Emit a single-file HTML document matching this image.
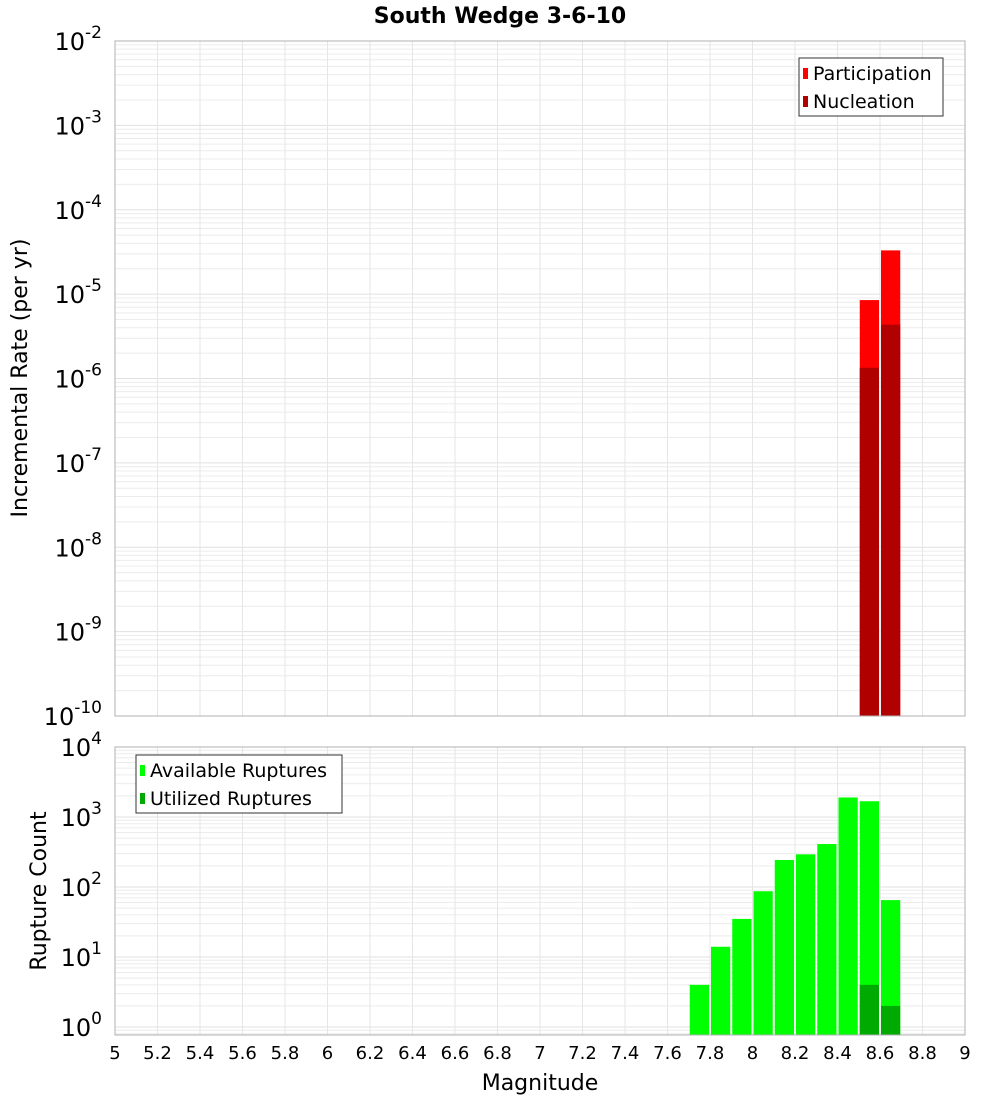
<!DOCTYPE html>
<html><head><meta charset="utf-8"><style>
body{margin:0;background:#fff;}
svg{display:block;font-family:"DejaVu Sans","Liberation Sans",sans-serif;}
</style></head><body>
<svg id="c" width="1000" height="1100" xmlns="http://www.w3.org/2000/svg">
<text x="500" y="23" text-anchor="middle" font-size="22" font-weight="bold">South Wedge 3-6-10</text>
<g id="topPanel"></g>
<g id="botPanel"></g>
<text x="540" y="1090" text-anchor="middle" font-size="22">Magnitude</text>
<text transform="translate(27,378) rotate(-90)" text-anchor="middle" font-size="22">Incremental Rate (per yr)</text>
<text transform="translate(46,891) rotate(-90)" text-anchor="middle" font-size="22">Rupture Count</text>
</svg>
<script>
const mags=[7.75,7.85,7.95,8.05,8.15,8.25,8.35,8.45,8.55,8.65];
const available=[4,14,35,87,243,293,411,1900,1680,65];
const utilized=[0,0,0,0,0,0,0,0,4,2];
const rateMags=[8.55,8.65];
const participation=[8.5e-6,3.3e-5];
const nucleation=[1.34e-6,4.35e-6];
const xTicks=[5,5.2,5.4,5.6,5.8,6,6.2,6.4,6.6,6.8,7,7.2,7.4,7.6,7.8,8,8.2,8.4,8.6,8.8,9];

const NS="http://www.w3.org/2000/svg";
const X0=115,X1=965;
const xs=m=>X0+(m-5)/4*(X1-X0);
function el(p,t,a){const e=document.createElementNS(NS,t);for(const k in a)e.setAttribute(k,a[k]);p.appendChild(e);return e;}

function panel(g,t0,b0,yFn,dMin,dMax){
  for(let d=dMin;d<=dMax;d++){for(let k=1;k<=9;k++){const yy=yFn(k*Math.pow(10,d));if(yy<t0-0.5||yy>b0+0.5)continue;
    const l=el(g,'line',{x1:X0,x2:X1,y1:yy,y2:yy,stroke:k==1?'#e0e0e0':'#ececec','stroke-width':1});
    
    }}
  xTicks.forEach(t=>{const l=el(g,'line',{x1:xs(t),x2:xs(t),y1:t0,y2:b0,stroke:'#e6e6e6','stroke-width':1});
    
    });
}
function frame(g,t0,b0){const r=el(g,'rect',{x:X0,y:t0,width:X1-X0,height:b0-t0,fill:'none',stroke:'#b0b0b0','stroke-width':1});
  
  }
function ylab(g,yy,e,name){const t=el(g,'text',{x:102,y:yy+9,'text-anchor':'end','font-size':24});
  
  
  t.textContent='10';const s=el(t,'tspan',{dy:-12,'font-size':17});s.textContent=e;}
function bar(g,m,v,yFn,b0,col,name){const yy=yFn(v);const b=el(g,'rect',{x:xs(m-0.05)+1,y:yy,width:xs(m+0.05)-xs(m-0.05)-2,height:b0-yy,fill:col});
  
  }

const T0=41,T1=716,dec=(T1-T0)/8;
const yT=v=>T0+(-2-Math.log10(v))*dec;
const topG=document.getElementById('topPanel');
panel(topG,T0,T1,yT,-10,-3);
rateMags.forEach((m,i)=>bar(topG,m,participation[i],yT,T1,'#ff0000','participation-bar'));
rateMags.forEach((m,i)=>bar(topG,m,nucleation[i],yT,T1,'#b00000','nucleation-bar'));
frame(topG,T0,T1);
for(let d=-10;d<=-2;d++)ylab(topG,yT(Math.pow(10,d)),String(d),'top-y-tick-label');

const B0=747,B1=1035,bdec=70,Y1=B0+4*bdec;
const yB=v=>Y1-Math.log10(v)*bdec;
const botG=document.getElementById('botPanel');
panel(botG,B0,B1,yB,-1,3);
mags.forEach((m,i)=>bar(botG,m,available[i],yB,B1,'#00ff00','available-bar'));
mags.forEach((m,i)=>{if(utilized[i]>0)bar(botG,m,utilized[i],yB,B1,'#00aa00','utilized-bar');});
frame(botG,B0,B1);
for(let d=0;d<=4;d++)ylab(botG,yB(Math.pow(10,d)),String(d),'bottom-y-tick-label');

xTicks.forEach(t=>{const tx=el(document.getElementById('c'),'text',{x:xs(t),y:1059,'text-anchor':'middle','font-size':18});
  
  
  tx.textContent=String(t);});

function legend(g,bx,by,w,items,name){const lg=el(g,'g',{});
  
  
  el(lg,'rect',{x:bx,y:by,width:w,height:58,fill:'#fff',stroke:'#333','stroke-width':1});
  items.forEach((it,i)=>{const cy=by+15+i*28;
    el(lg,'rect',{x:bx+4,y:cy-5,width:5,height:11,fill:it[1]});
    const t=el(lg,'text',{x:bx+14,y:cy+7,'font-size':19});
    
    
    t.textContent=it[0];});}
legend(topG,799,58,144,[['Participation','#ff0000'],['Nucleation','#b00000']],'rate-legend');
legend(botG,136,755,206,[['Available Ruptures','#00ff00'],['Utilized Ruptures','#00aa00']],'count-legend');
</script>
</body></html>
